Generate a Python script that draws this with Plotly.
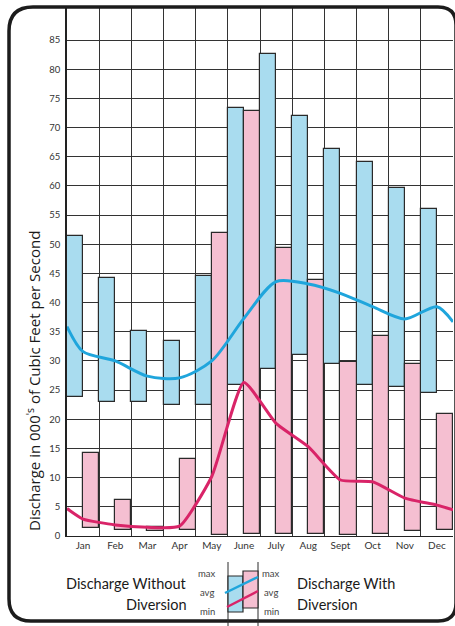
import plotly.graph_objects as go

months = ["Jan", "Feb", "Mar", "Apr", "May", "June", "July", "Aug", "Sept", "Oct", "Nov", "Dec"]

without_max = [51.5, 44.3, 35.1, 33.4, 44.6, 73.3, 82.7, 72.0, 66.4, 64.1, 59.6, 56.0]
without_min = [23.9, 22.9, 23.0, 22.5, 22.5, 25.8, 28.6, 31.0, 29.4, 25.9, 25.6, 24.5]
without_avg = [31.6, 30.0, 27.4, 27.1, 30.0, 37.3, 43.6, 43.2, 41.6, 39.3, 37.2, 39.3]
without_avg_start = 35.9
without_avg_end = 36.7

with_max = [14.3, 6.2, 1.5, 13.2, 52.0, 72.8, 49.3, 43.8, 29.9, 34.3, 29.4, 20.9]
with_min = [1.3, 1.1, 0.9, 1.0, 0.2, 0.3, 0.3, 0.4, 0.2, 0.3, 0.9, 1.1]
with_avg = [2.9, 1.9, 1.5, 1.7, 10.2, 26.3, 19.3, 15.3, 9.6, 9.3, 6.5, 5.3]
with_avg_start = 4.7
with_avg_end = 4.5

y_ticks = list(range(0, 90, 5))

BLUE_FILL = "#a9dcef"
PINK_FILL = "#f5bfd1"
BLUE_LINE = "#1fa5dc"
PINK_LINE = "#d92468"
EDGE = "#2a2a2a"
FONT = "Lato"

W, H = 455, 626
ML, MR, MT, MB = 67, 2, 8, 90
PW = W - ML - MR
PH = H - MT - MB


def px(x):
    return (x - ML) / PW


def py(y):
    return (H - MB - y) / PH


idx = list(range(len(months)))
line_x = [-0.5] + idx + [len(months) - 0.5]

fig = go.Figure()

fig.add_trace(go.Bar(
    x=[i - 0.25 for i in idx],
    y=[a - b for a, b in zip(without_max, without_min)],
    base=without_min, width=0.5,
    marker=dict(color=BLUE_FILL, line=dict(color=EDGE, width=1.2)),
    showlegend=False, hoverinfo="skip"))

fig.add_trace(go.Bar(
    x=[i + 0.25 for i in idx],
    y=[a - b for a, b in zip(with_max, with_min)],
    base=with_min, width=0.5,
    marker=dict(color=PINK_FILL, line=dict(color=EDGE, width=1.2)),
    showlegend=False, hoverinfo="skip"))

fig.add_trace(go.Scatter(
    x=line_x, y=[without_avg_start] + without_avg + [without_avg_end],
    mode="lines", line=dict(color=BLUE_LINE, width=3, shape="spline", smoothing=0.8),
    showlegend=False, hoverinfo="skip", cliponaxis=True))

fig.add_trace(go.Scatter(
    x=line_x, y=[with_avg_start] + with_avg + [with_avg_end],
    mode="lines", line=dict(color=PINK_LINE, width=3, shape="spline", smoothing=0.5),
    showlegend=False, hoverinfo="skip", cliponaxis=True))

shapes = []

# Rounded frame
L, R, T, B = 9, 456, 7, 621
rtl, rtr, rbl, rbr = 24, 18, 22, 18
path = (
    f"M {px(L)},{py(T + rtl)} "
    f"Q {px(L)},{py(T)} {px(L + rtl)},{py(T)} "
    f"L {px(R - rtr)},{py(T)} "
    f"Q {px(R)},{py(T)} {px(R)},{py(T + rtr)} "
    f"L {px(R)},{py(B - rbr)} "
    f"Q {px(R)},{py(B)} {px(R - rbr)},{py(B)} "
    f"L {px(L + rbl)},{py(B)} "
    f"Q {px(L)},{py(B)} {px(L)},{py(B - rbl)} Z"
)
shapes.append(dict(type="path", path=path, xref="paper", yref="paper",
                   line=dict(color="#1c1c1c", width=3.5), layer="above"))

# Legend key
for xv in (228, 258):
    shapes.append(dict(type="line", xref="paper", yref="paper",
                       x0=px(xv), x1=px(xv), y0=py(562), y1=py(626),
                       line=dict(color=EDGE, width=1)))
shapes.append(dict(type="rect", xref="paper", yref="paper",
                   x0=px(228), x1=px(243), y0=py(612), y1=py(576),
                   fillcolor=BLUE_FILL, line=dict(color=EDGE, width=1.2)))
shapes.append(dict(type="rect", xref="paper", yref="paper",
                   x0=px(243), x1=px(258), y0=py(608), y1=py(571),
                   fillcolor=PINK_FILL, line=dict(color=EDGE, width=1.2)))
shapes.append(dict(type="line", xref="paper", yref="paper",
                   x0=px(225), y0=py(593), x1=px(258), y1=py(577),
                   line=dict(color=BLUE_LINE, width=2.5)))
shapes.append(dict(type="line", xref="paper", yref="paper",
                   x0=px(227), y0=py(607), x1=px(258), y1=py(591),
                   line=dict(color=PINK_LINE, width=2.5)))

annotations = []


def text(x, y, s, size, anchor="center", color="#1a1a1a", angle=0, family=FONT):
    annotations.append(dict(x=px(x), y=py(y), xref="paper", yref="paper", text=s,
                            showarrow=False, xanchor=anchor, yanchor="middle",
                            textangle=angle,
                            font=dict(family=family, size=size, color=color)))


text(33, 381, "Discharge in 000<sup>'s</sup> of Cubic Feet per Second", 15,
     angle=-90, family="Open Sans")
text(189, 583, "Discharge Without", 14.5, anchor="right")
text(189, 604, "Diversion", 14.5, anchor="right")
text(295, 583, "Discharge With", 14.5, anchor="left")
text(295, 604, "Diversion", 14.5, anchor="left")
for lab, yy in (("max", 573), ("avg", 592), ("min", 611)):
    text(207, yy, lab, 9.5, color="#444")
    text(271, yy, lab, 9.5, color="#444")

fig.update_layout(
    width=W, height=H,
    margin=dict(l=ML, r=MR, t=MT, b=MB),
    paper_bgcolor="white", plot_bgcolor="white",
    barmode="overlay", bargap=0,
    shapes=shapes, annotations=annotations,
    font=dict(family=FONT, color="#222"),
)
fig.update_xaxes(
    range=[-0.5, len(months) - 0.5],
    tickvals=idx, ticktext=months, ticks="", showgrid=False, zeroline=False,
    tickfont=dict(size=10, color="#333"),
    minor=dict(tick0=-0.5, dtick=1, showgrid=True, gridcolor="#333", gridwidth=1),
    showline=True, linecolor="#222", linewidth=1.2,
)
fig.update_yaxes(
    range=[0, 90.5], tickvals=y_ticks, ticks="", showgrid=True,
    gridcolor="#333", gridwidth=1, zeroline=False,
    showline=True, linecolor="#222", linewidth=1.5,
    tickfont=dict(size=9.5, color="#333"), ticklabelstandoff=3,
)

fig.write_html("out.html", config={"displayModeBar": False},
               post_script="document.body.style.margin='0';")
